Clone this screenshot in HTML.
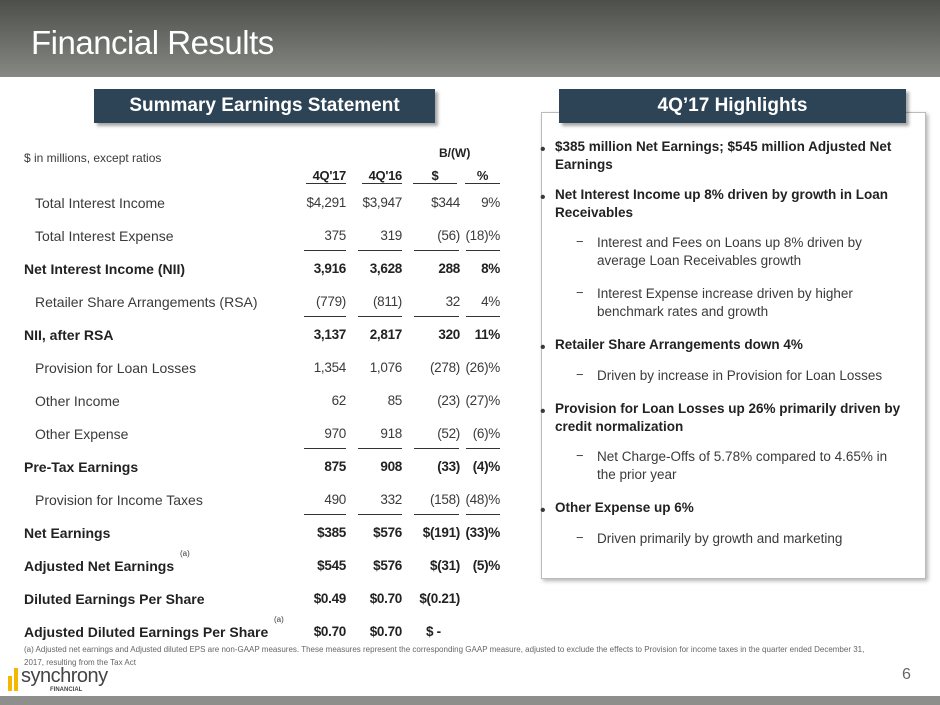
<!DOCTYPE html>
<html><head><style>
body{margin:0;width:940px;height:705px;position:relative;overflow:hidden;background:#fff;font-family:"Liberation Sans",sans-serif;color:#3a3a3a}
.hdr{position:absolute;left:0;top:0;width:940px;height:77px;background:linear-gradient(#4d4f4b,#868883)}
.hdr h1{position:absolute;left:31px;top:24px;margin:0;font-weight:normal;font-size:33px;color:#fff;letter-spacing:-0.5px}
.lab{position:absolute;background:#2d4456;color:#fff;font-weight:bold;font-size:19px;text-align:center;line-height:34px;box-shadow:3px 3px 3px rgba(0,0,0,.35)}
.box{position:absolute;left:541px;top:112px;width:383px;height:465px;border:1px solid #bbb;box-shadow:2px 2px 4px rgba(0,0,0,.3)}
.t{position:absolute;font-size:14px;white-space:nowrap}
.b{font-weight:bold;color:#222}
.n{position:absolute;font-size:13.5px;text-align:right;white-space:nowrap;letter-spacing:-0.3px}
.u{border-bottom:1px solid #333;font-weight:bold;color:#222;font-size:13px}
.hl{position:absolute;left:555px;width:350px;font-size:13.5px;line-height:18px}
.bul{position:absolute;left:540px;font-size:16px;line-height:16px}
.dash{position:absolute;left:576px;font-size:13px}
.bot{position:absolute;left:0;top:696px;width:940px;height:9px;background:#8e8f8c}
</style></head><body>
<div class="hdr"><h1>Financial Results</h1></div>
<div class="lab" style="left:94px;top:89px;width:341px;height:34px">Summary Earnings Statement</div>
<div class="box"></div>
<div class="lab" style="left:559px;top:89px;width:347px;height:34px">4Q’17 Highlights</div>
<div class="t" style="left:24px;top:151px;font-size:12px">$ in millions, except ratios</div>
<div class="t" style="left:439px;top:146px;font-size:12px;font-weight:bold;color:#222">B/(W)</div>
<div class="n u" style="left:306px;top:168px;width:40px">4Q'17</div>
<div class="n u" style="left:362px;top:168px;width:40px">4Q'16</div>
<div class="n u" style="left:413px;top:168px;width:44px;text-align:center">$</div>
<div class="n u" style="left:465px;top:168px;width:35px;text-align:center">%</div>
<div id="rows"></div>
<script>
var R=[["Total Interest Income",0,["$4,291","$3,947","$344","9%"],0],
["Total Interest Expense",0,["375","319","(56)","(18)%"],1],
["Net Interest Income (NII)",1,["3,916","3,628","288","8%"],0],
["Retailer Share Arrangements (RSA)",0,["(779)","(811)","32","4%"],1],
["NII, after RSA",1,["3,137","2,817","320","11%"],0],
["Provision for Loan Losses",0,["1,354","1,076","(278)","(26)%"],0],
["Other Income",0,["62","85","(23)","(27)%"],0],
["Other Expense",0,["970","918","(52)","(6)%"],1],
["Pre-Tax Earnings",1,["875","908","(33)","(4)%"],0],
["Provision for Income Taxes",0,["490","332","(158)","(48)%"],1],
["Net Earnings",1,["$385","$576","$(191)","(33)%"],0],
["Adjusted Net Earnings",1,["$545","$576","$(31)","(5)%"],0],
["Diluted Earnings Per Share",1,["$0.49","$0.70","$(0.21)",""],0],
["Adjusted Diluted Earnings Per Share",1,["$0.70","$0.70","$ -",""],0]];
var L=[[296,50],[352,50],[405,55],[462,38]],U=[[304,42],[358,44],[414,45],[466,34]],h="";
R.forEach(function(r,i){var y=195+i*33;
h+='<div class="t'+(r[1]?' b':'')+'" style="left:'+(r[1]?24:35)+'px;top:'+y+'px">'+r[0]+'</div>';
r[2].forEach(function(v,j){var st=r[1]?'font-weight:bold;color:#222;':'';
if(i==13&&j==2){h+='<div class="n" style="left:426px;top:'+y+'px;text-align:left;width:40px;font-weight:bold;color:#222">'+v+'</div>';return;}
h+='<div class="n" style="'+st+'left:'+L[j][0]+'px;width:'+L[j][1]+'px;top:'+y+'px">'+v+'</div>';
if(r[3])h+='<div style="position:absolute;left:'+U[j][0]+'px;width:'+U[j][1]+'px;top:'+(y+22)+'px;border-top:1px solid #333"></div>';});});
h+='<div class="t" style="left:180px;top:549px;font-size:8px">(a)</div><div class="t" style="left:274px;top:615px;font-size:8px">(a)</div>';
document.getElementById('rows').innerHTML=h;
</script>
<div class="bul" style="top:142px">•</div><div class="hl b" style="top:138px">$385 million Net Earnings; $545 million Adjusted Net Earnings</div>
<div class="bul" style="top:190px">•</div><div class="hl b" style="top:186px">Net Interest Income up 8% driven by growth in Loan Receivables</div>
<div class="dash" style="top:234px">−</div><div class="hl" style="top:234px;left:597px;width:310px">Interest and Fees on Loans up 8% driven by average Loan Receivables growth</div>
<div class="dash" style="top:285px">−</div><div class="hl" style="top:285px;left:597px;width:310px">Interest Expense increase driven by higher benchmark rates and growth</div>
<div class="bul" style="top:340px">•</div><div class="hl b" style="top:336px">Retailer Share Arrangements down 4%</div>
<div class="dash" style="top:367px">−</div><div class="hl" style="top:367px;left:597px;width:310px">Driven by increase in Provision for Loan Losses</div>
<div class="bul" style="top:404px">•</div><div class="hl b" style="top:400px">Provision for Loan Losses up 26% primarily driven by credit normalization</div>
<div class="dash" style="top:448px">−</div><div class="hl" style="top:448px;left:597px;width:300px">Net Charge-Offs of 5.78% compared to 4.65% in the prior year</div>
<div class="bul" style="top:503px">•</div><div class="hl b" style="top:499px">Other Expense up 6%</div>
<div class="dash" style="top:530px">−</div><div class="hl" style="top:530px;left:597px;width:310px">Driven primarily by growth and marketing</div>
<div class="t" style="left:24px;top:643px;font-size:8px;color:#666;line-height:13px;white-space:normal;width:860px">(a) Adjusted net earnings and Adjusted diluted EPS are non-GAAP measures. These measures represent the corresponding GAAP measure, adjusted to exclude the effects to Provision for income taxes in the quarter ended December 31, 2017, resulting from the Tax Act</div>
<div style="position:absolute;left:8px;top:676px;width:4px;height:15px;background:#f5b800"></div>
<div style="position:absolute;left:14px;top:668px;width:4px;height:23px;background:#f5b800"></div>
<div class="t" style="left:21px;top:665px;font-size:20px;color:#444;letter-spacing:-0.5px">synchrony</div>
<div class="t" style="left:50px;top:687px;font-size:6px;color:#444;font-weight:bold">FINANCIAL</div>
<div class="t" style="left:902px;top:666px;font-size:16px;color:#666">6</div>
<div class="bot"></div>
</body></html>
